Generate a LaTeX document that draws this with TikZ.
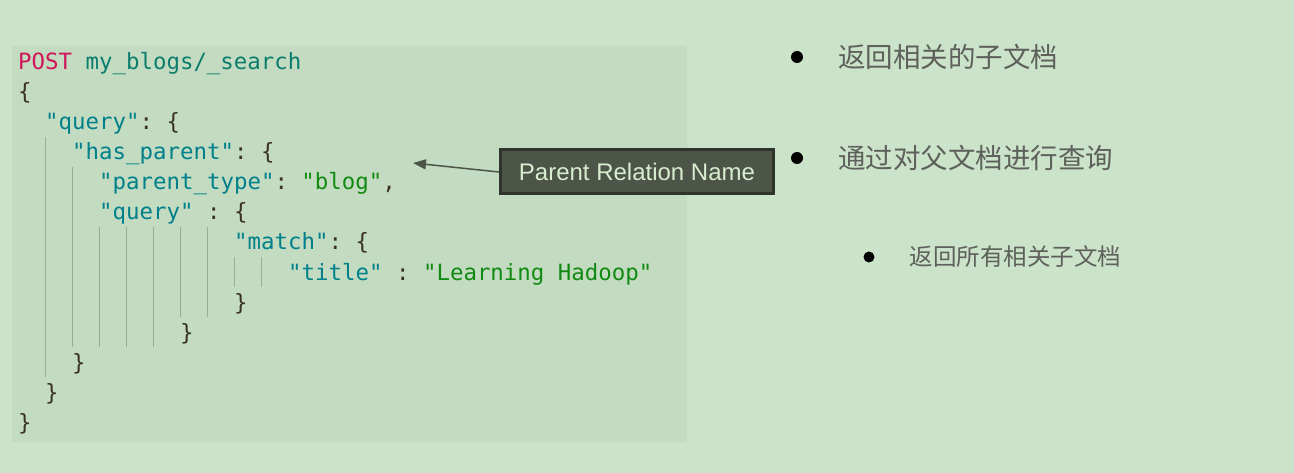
\documentclass[tikz,border=0pt]{standalone}
\usepackage{fontspec}
\setmonofont{DejaVu Sans Mono}
\newfontfamily\cjk{Noto Sans CJK SC}
\newfontfamily\labelfont{Liberation Sans}
\usetikzlibrary{positioning,arrows.meta}

\definecolor{bggreen}{HTML}{CBE3C8}
\definecolor{codebg}{HTML}{C3DBC0}
\definecolor{postred}{HTML}{D0155A}
\definecolor{pathteal}{HTML}{0B7D6E}
\definecolor{keyteal}{HTML}{00808A}
\definecolor{strgreen}{HTML}{118A11}
\definecolor{punct}{HTML}{3A3322}
\definecolor{guidegray}{HTML}{98AC96}
\definecolor{boxfill}{HTML}{4D5548}
\definecolor{boxborder}{HTML}{2F342D}
\definecolor{boxtext}{HTML}{D8EDD0}
\definecolor{notegray}{HTML}{5E605C}

\newcommand{\ckey}[1]{\textcolor{keyteal}{#1}}
\newcommand{\cstr}[1]{\textcolor{strgreen}{#1}}

\tikzset{
    codeline/.style={anchor=base west, inner sep=0pt, text=punct,
        font=\ttfamily\fontsize{22.4}{26}\selectfont},
    guide/.style={draw=guidegray, line width=1pt},
    relbox/.style={draw=boxborder, line width=3pt, fill=boxfill, text=boxtext,
        minimum width=273pt, minimum height=44pt, inner sep=0pt,
        font=\labelfont\fontsize{24}{28}\selectfont},
    relarrow/.style={draw=boxfill, line width=1.5pt,
        -{Triangle[length=13pt,width=10pt]}},
    bullet/.style={circle, fill=black, inner sep=0pt, minimum size=12pt},
    notetext/.style={anchor=west, inner sep=0pt, text=notegray,
        font=\cjk\fontsize{27.5}{32}\selectfont}
}

\begin{document}
\begin{tikzpicture}[x=1pt, y=-1pt]
    \useasboundingbox (0,0) rectangle (1294,473);
    \fill[bggreen] (0,0) rectangle (1294,473);
    \fill[codebg, rounded corners=2pt] (12,46) rectangle (687,442);

    % indent guides, line number / number of guides
    \foreach \k/\n in {4/1,5/2,6/2,7/7,8/9,9/7,10/5,11/1}
        \foreach \i in {1,...,\n}
            \draw[guide] (18+27*\i, 17+30*\k) -- (18+27*\i, 47+30*\k);

    % code lines
    \node[codeline] (l01) at (18,70) {\textcolor{postred}{POST} \textcolor{pathteal}{my\_blogs/\_search}};
    \node[codeline] (l02) at (18,100) {\{};
    \node[codeline] (l03) at (45,130) {\ckey{"query"}: \{};
    \node[codeline] (l04) at (72,160) {\ckey{"has\_parent"}: \{};
    \node[codeline] (l05) at (99,190) {\ckey{"parent\_type"}: \cstr{"blog"},};
    \node[codeline] (l06) at (99,220) {\ckey{"query"} : \{};
    \node[codeline] (l07) at (234,250) {\ckey{"match"}: \{};
    \node[codeline] (l08) at (288,280) {\ckey{"title"} : \cstr{"Learning Hadoop"}};
    \node[codeline] (l09) at (234,310) {\}};
    \node[codeline] (l10) at (180,340) {\}};
    \node[codeline] (l11) at (72,370) {\}};
    \node[codeline] (l12) at (45,400) {\}};
    \node[codeline] (l13) at (18,430) {\}};

    % relation label
    \node[relbox] (rel) at (637,172) {Parent Relation Name};
    \coordinate (relhead) at (413,163);
    \draw[relarrow] (rel.west) -- (relhead);

    % notes
    \node[bullet] (b1) at (797,57) {};
    \node[notetext, right=35pt of b1] (n1) {返回相关的子文档};
    \node[bullet] (b2) at (797,158) {};
    \node[notetext, right=35pt of b2] (n2) {通过对父文档进行查询};
    \node[bullet, minimum size=11pt] (b3) at (869,257) {};
    \node[notetext, right=35pt of b3, font=\cjk\fontsize{23.5}{28}\selectfont] (n3) {返回所有相关子文档};
\end{tikzpicture}
\end{document}
